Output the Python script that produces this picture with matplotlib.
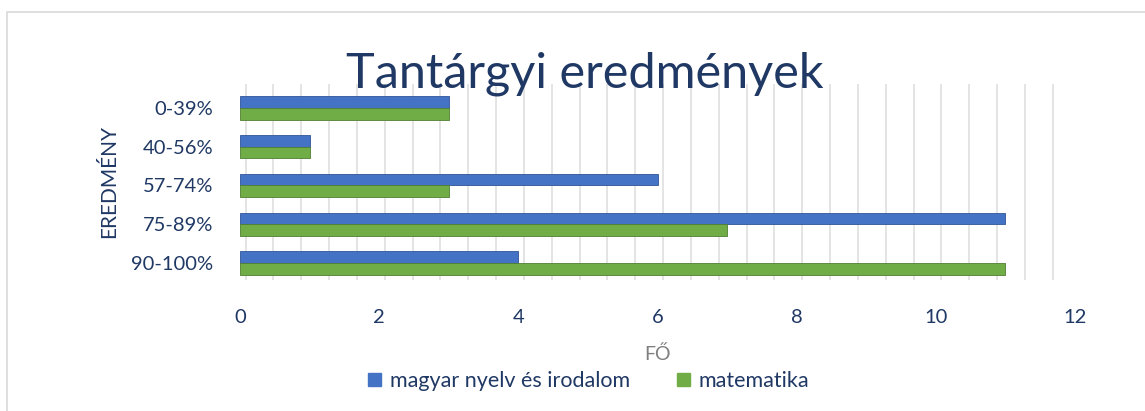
import matplotlib.pyplot as plt
import matplotlib.patches as patches
import numpy as np

categories = ['0-39%', '40-56%', '57-74%', '75-89%', '90-100%']
magyar = [3, 1, 6, 11, 4]
matek = [3, 1, 3, 7, 11]
series_names = ['magyar nyelv és irodalom', 'matematika']
xticks = [0, 2, 4, 6, 8, 10, 12]

navy = '#1F3864'
blue = '#4472C4'
green = '#70AD47'

plt.rcParams['font.family'] = ['Lato', 'DejaVu Sans']

fig = plt.figure(figsize=(11.45, 4.11), dpi=100)
# chart border
fig.add_artist(patches.Rectangle((7 / 1145, -0.1), 1.2, 1 - 12 / 411 + 0.1,
                                 transform=fig.transFigure, fill=False,
                                 edgecolor='#D9D9D9', linewidth=1.2))

ax = fig.add_axes([240 / 1145, 1 - 280 / 411, 835 / 1145, 196 / 411])

y = np.arange(len(categories))
h = 0.3
ax.barh(y - h / 2, magyar, height=h, color=blue, edgecolor='#2F5597', linewidth=0.6, zorder=3)
ax.barh(y + h / 2, matek, height=h, color=green, edgecolor='#507E32', linewidth=0.6, zorder=3)

ax.set_xlim(0, 12)
ax.set_ylim(4.44, -0.62)
ax.set_yticks(y)
ax.set_yticklabels(categories)
ax.set_xticks(xticks)

# back wall gridlines
for g in np.arange(0, 12.01, 0.4):
    ax.axvline(g + 0.08, color='#E4E4E4', linewidth=1.4, zorder=1)

for s in ax.spines.values():
    s.set_visible(False)
ax.tick_params(axis='both', length=0, colors=navy, labelsize=14.5)
ax.tick_params(axis='x', pad=21)
ax.tick_params(axis='y', pad=19)

ax.set_ylabel('EREDMÉNY', color=navy, fontsize=15, labelpad=9)
ax.set_xlabel('FŐ', color='#7F7F7F', fontsize=14, labelpad=14)

fig.text(585 / 1145, 1 - 88 / 411, 'Tantárgyi eredmények', fontsize=35,
         color=navy, ha='center', va='baseline')

handles = [patches.Patch(color=blue), patches.Patch(color=green)]
fig.legend(handles, series_names, loc='center', bbox_to_anchor=(589 / 1145, 1 - 381 / 411),
           ncol=2, frameon=False, fontsize=15.5, labelcolor=navy, handlelength=0.6,
           handleheight=0.6, columnspacing=2.2, handletextpad=0.4)

fig.savefig('out.png', dpi=100)
